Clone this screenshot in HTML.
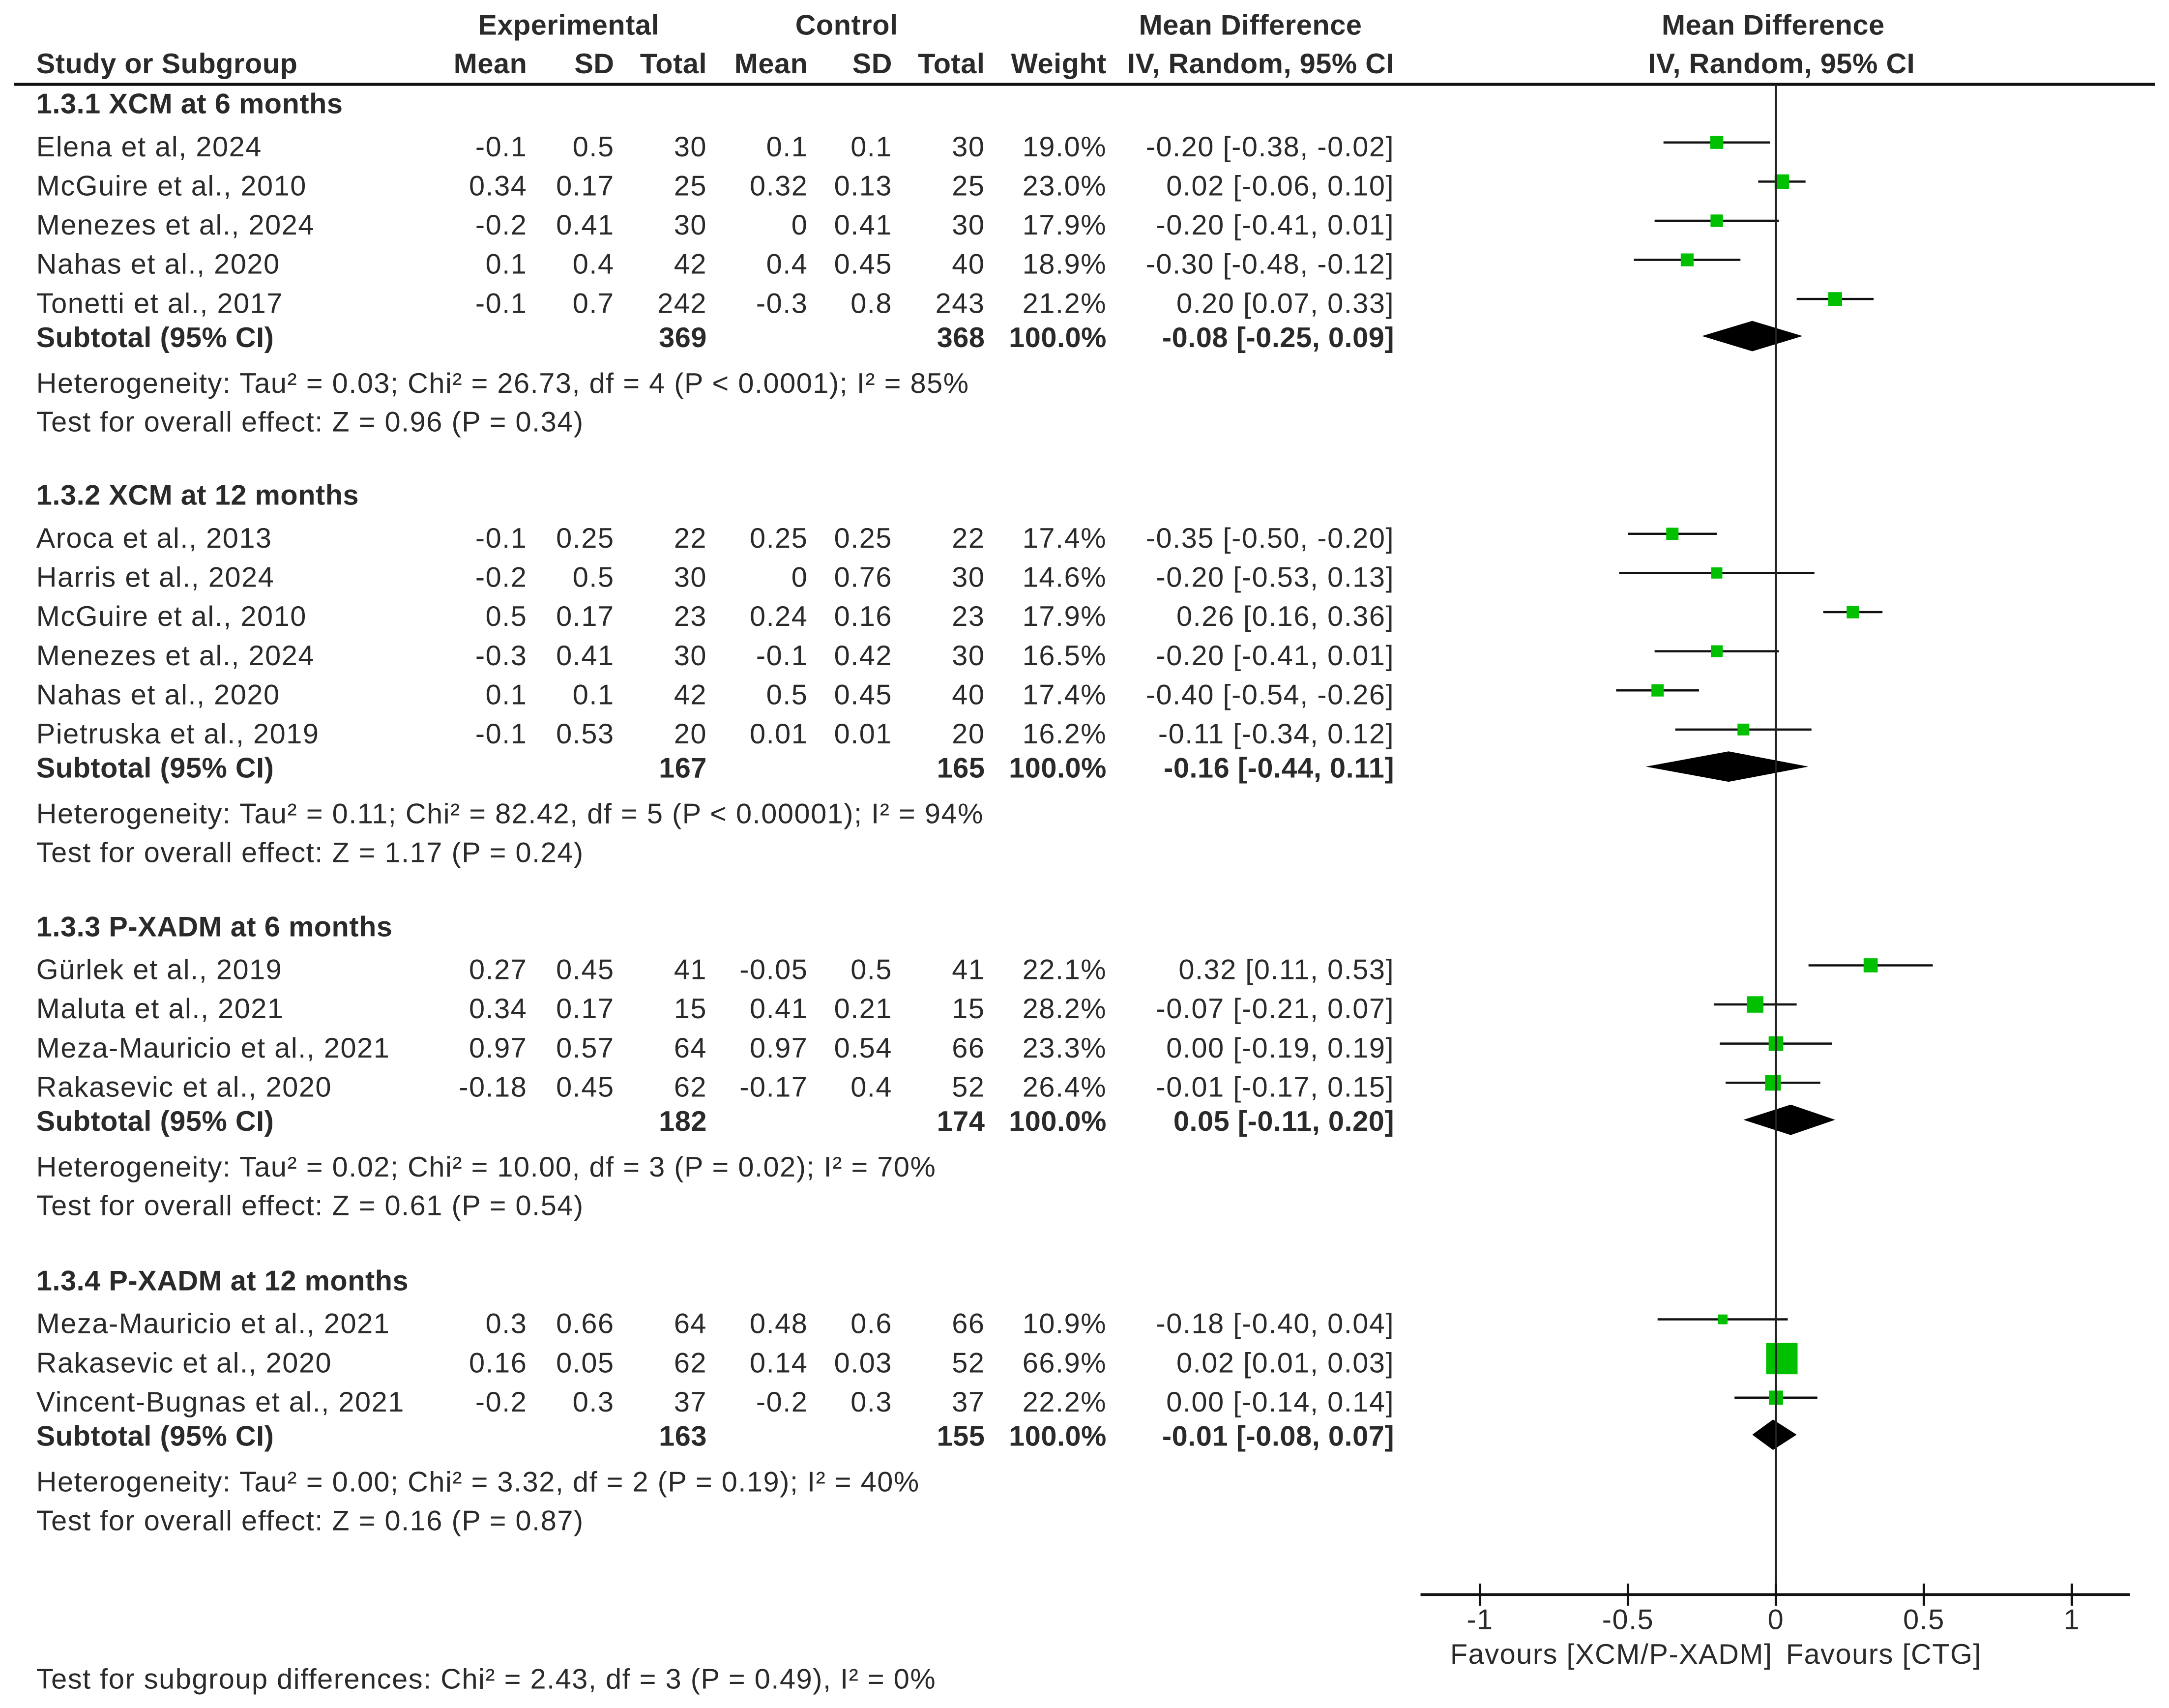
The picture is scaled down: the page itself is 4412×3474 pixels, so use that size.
<!DOCTYPE html>
<html><head><meta charset="utf-8"><style>
html,body{margin:0;padding:0;background:#fff;}
svg{display:block;}
text{font-family:"Liberation Sans",Arial,sans-serif;font-size:20.5px;letter-spacing:0.55px;fill:#2a2a2a;}
.b{font-weight:bold;letter-spacing:0.2px;}
</style></head><body>
<svg id="plot" width="4412" height="3474" viewBox="0 0 1568 1235" xmlns="http://www.w3.org/2000/svg"></svg>
<script>
// Data
const groupTitles = ["1.3.1 XCM at 6 months","1.3.2 XCM at 12 months","1.3.3 P-XADM at 6 months","1.3.4 P-XADM at 12 months"];
const studies = [
 ["Elena et al, 2024","McGuire et al., 2010","Menezes et al., 2024","Nahas et al., 2020","Tonetti et al., 2017"],
 ["Aroca et al., 2013","Harris et al., 2024","McGuire et al., 2010","Menezes et al., 2024","Nahas et al., 2020","Pietruska et al., 2019"],
 ["Gürlek et al., 2019","Maluta et al., 2021","Meza-Mauricio et al., 2021","Rakasevic et al., 2020"],
 ["Meza-Mauricio et al., 2021","Rakasevic et al., 2020","Vincent-Bugnas et al., 2021"]
];
const expMean = [["-0.1","0.34","-0.2","0.1","-0.1"],["-0.1","-0.2","0.5","-0.3","0.1","-0.1"],["0.27","0.34","0.97","-0.18"],["0.3","0.16","-0.2"]];
const expSD = [["0.5","0.17","0.41","0.4","0.7"],["0.25","0.5","0.17","0.41","0.1","0.53"],["0.45","0.17","0.57","0.45"],["0.66","0.05","0.3"]];
const expN = [[30,25,30,42,242],[22,30,23,30,42,20],[41,15,64,62],[64,62,37]];
const ctlMean = [["0.1","0.32","0","0.4","-0.3"],["0.25","0","0.24","-0.1","0.5","0.01"],["-0.05","0.41","0.97","-0.17"],["0.48","0.14","-0.2"]];
const ctlSD = [["0.1","0.13","0.41","0.45","0.8"],["0.25","0.76","0.16","0.42","0.45","0.01"],["0.5","0.21","0.54","0.4"],["0.6","0.03","0.3"]];
const ctlN = [[30,25,30,40,243],[22,30,23,30,40,20],[41,15,66,52],[66,52,37]];
const weights = [[19.0,23.0,17.9,18.9,21.2],[17.4,14.6,17.9,16.5,17.4,16.2],[22.1,28.2,23.3,26.4],[10.9,66.9,22.2]];
const md = [[-0.20,0.02,-0.20,-0.30,0.20],[-0.35,-0.20,0.26,-0.20,-0.40,-0.11],[0.32,-0.07,0.00,-0.01],[-0.18,0.02,0.00]];
const lo = [[-0.38,-0.06,-0.41,-0.48,0.07],[-0.50,-0.53,0.16,-0.41,-0.54,-0.34],[0.11,-0.21,-0.19,-0.17],[-0.40,0.01,-0.14]];
const hi = [[-0.02,0.10,0.01,-0.12,0.33],[-0.20,0.13,0.36,0.01,-0.26,0.12],[0.53,0.07,0.19,0.15],[0.04,0.03,0.14]];
const subExpN = [369,167,182,163];
const subCtlN = [368,165,174,155];
const subMD = [-0.08,-0.16,0.05,-0.01];
const subLo = [-0.25,-0.44,-0.11,-0.08];
const subHi = [0.09,0.11,0.20,0.07];
const hetText = ["Heterogeneity: Tau² = 0.03; Chi² = 26.73, df = 4 (P < 0.0001); I² = 85%","Heterogeneity: Tau² = 0.11; Chi² = 82.42, df = 5 (P < 0.00001); I² = 94%","Heterogeneity: Tau² = 0.02; Chi² = 10.00, df = 3 (P = 0.02); I² = 70%","Heterogeneity: Tau² = 0.00; Chi² = 3.32, df = 2 (P = 0.19); I² = 40%"];
const effText = ["Test for overall effect: Z = 0.96 (P = 0.34)","Test for overall effect: Z = 1.17 (P = 0.24)","Test for overall effect: Z = 0.61 (P = 0.54)","Test for overall effect: Z = 0.16 (P = 0.87)"];
const xTicks = [-1,-0.5,0,0.5,1];
const xTickLabels = ["-1","-0.5","0","0.5","1"];

const svg = document.getElementById('plot');
const NS = 'http://www.w3.org/2000/svg';
const X0 = 1284, UNIT = 214;
function xs(v){return X0 + v*UNIT;}
function mk(tag, attrs, txt){const e=document.createElementNS(NS,tag);for(const k in attrs)e.setAttribute(k,attrs[k]);if(txt!==undefined)e.textContent=txt;svg.appendChild(e);return e;}
function txt(x,y,s,anchor,cls,name){const e=mk('text',{x:x,y:y,'text-anchor':anchor||'start'},s);if(cls)e.setAttribute('class',cls);


return e;}
function f2(v){return (v<0?'-':'')+Math.abs(v).toFixed(2);}
function ci(m,l,h){return f2(m)+' ['+f2(l)+', '+f2(h)+']';}

// Headers
txt(411,25,'Experimental','middle','b','header-experimental');
txt(612,25,'Control','middle','b','header-control');
txt(904,25,'Mean Difference','middle','b','header-mean-difference');
txt(1282,25,'Mean Difference','middle','b','header-plot-mean-difference');
txt(26,53,'Study or Subgroup','start','b','header-study');
const hdrX=[381,444,511,584,645,712,800,1008];
const hdr=['Mean','SD','Total','Mean','SD','Total','Weight','IV, Random, 95% CI'];
hdr.forEach((h,i)=>{txt(hdrX[i],53,h,'end','b','header-col-'+i);});
txt(1288,53,'IV, Random, 95% CI','middle','b','header-plot-method');
let hl=mk('line',{x1:10,y1:61,x2:1558,y2:61,stroke:'#111','stroke-width':2.2});



const groupY=[75,358,670,926];
const colX=[381,444,511,584,645,712,800,1008];
groupTitles.forEach((g,gi)=>{
  let y=groupY[gi];
  txt(26,y+7,g,'start','b','group-title-'+(gi+1));
  let ry=y+31;
  studies[gi].forEach((s,si)=>{
    const yy=ry+si*28.3;
    txt(26,yy+7,s,'start',null,'study-name');
    const vals=[expMean[gi][si],expSD[gi][si],expN[gi][si],ctlMean[gi][si],ctlSD[gi][si],ctlN[gi][si],weights[gi][si].toFixed(1)+'%',ci(md[gi][si],lo[gi][si],hi[gi][si])];
    vals.forEach((v,ci2)=>txt(colX[ci2],yy+7,String(v),'end',null,'study-value'));
    const my=yy-3;
    const l=mk('line',{x1:xs(lo[gi][si]),y1:my,x2:xs(hi[gi][si]),y2:my,stroke:'#111','stroke-width':1.6});
    
    
    const sz=4+weights[gi][si]*0.28;
    const r=mk('rect',{x:xs(md[gi][si])-sz/2,y:my-sz/2,width:sz,height:sz,fill:'#00c000'});
    
    
  });
  const sy=ry+studies[gi].length*28.3-3.5;
  txt(26,sy+7,'Subtotal (95% CI)','start','b','subtotal-label');
  txt(511,sy+7,String(subExpN[gi]),'end','b','subtotal-exp-n');
  txt(712,sy+7,String(subCtlN[gi]),'end','b','subtotal-ctl-n');
  txt(800,sy+7,'100.0%','end','b','subtotal-weight');
  txt(1008,sy+7,ci(subMD[gi],subLo[gi],subHi[gi]),'end','b','subtotal-ci');
  const dy=sy-1;
  const d=mk('polygon',{points:xs(subLo[gi])+','+dy+' '+xs(subMD[gi])+','+(dy-11)+' '+xs(subHi[gi])+','+dy+' '+xs(subMD[gi])+','+(dy+11),fill:'#000'});
  
  
  txt(26,sy+40,hetText[gi],'start',null,'heterogeneity-text');
  txt(26,sy+68,effText[gi],'start',null,'overall-effect-text');
});

// Axis
const axY=1153;
let v=mk('line',{x1:X0,y1:61,x2:X0,y2:axY,stroke:'#222','stroke-width':1.6});


let ax=mk('line',{x1:1027,y1:axY,x2:1540,y2:axY,stroke:'#111','stroke-width':2});


xTicks.forEach((t,i)=>{
  const tk=mk('line',{x1:xs(t),y1:axY-8,x2:xs(t),y2:axY+8,stroke:'#111','stroke-width':1.8});
  
  
  txt(xs(t),axY+25,xTickLabels[i],'middle',null,'x-tick-label');
});
txt(1165,1203,'Favours [XCM/P-XADM]','middle',null,'favours-left');
txt(1362,1203,'Favours [CTG]','middle',null,'favours-right');
txt(26,1221,'Test for subgroup differences: Chi² = 2.43, df = 3 (P = 0.49), I² = 0%','start',null,'subgroup-differences-text');
</script>
</body></html>
